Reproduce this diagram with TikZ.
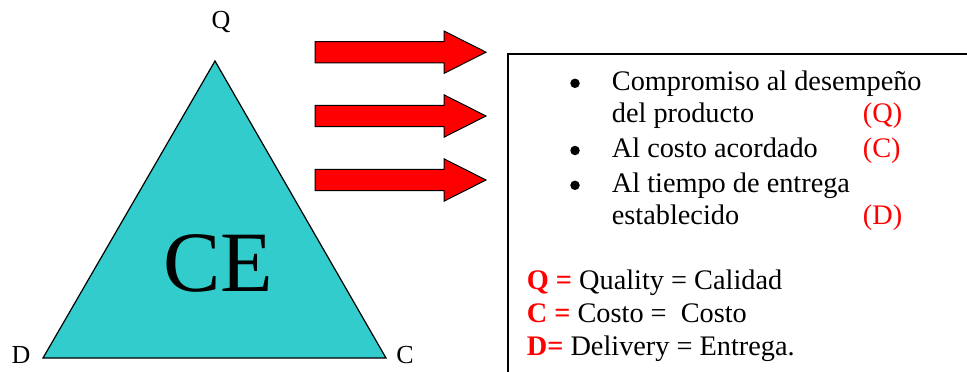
\documentclass[tikz,border=0pt]{standalone}
\usepackage{fontspec}
\setmainfont{Liberation Serif}
\definecolor{teal1}{HTML}{33CCCC}
\definecolor{red1}{HTML}{FF0000}
\begin{document}
\begin{tikzpicture}[x=1pt,y=-1pt,
  vlabel/.style={inner sep=0pt,anchor=base,font=\fontsize{26}{30}\selectfont},
  txt/.style={inner sep=0pt,anchor=base west,font=\fontsize{28.3}{32}\selectfont},
  bul/.style={circle,fill=black,inner sep=0pt,minimum size=9.5pt},
  redtxt/.style={txt,text=red1},
  bigarrow/.style={fill=red1,draw=black,line width=1pt,line join=miter}]
\useasboundingbox (0,0) rectangle (967,372);
% triangle
\coordinate (top) at (215,61);
\coordinate (dl) at (43,358);
\coordinate (cr) at (386,358);
\draw[fill=teal1,line width=1.2pt,line join=miter] (top) -- (dl) -- (cr) -- cycle;
\node[inner sep=0pt,anchor=base,font=\fontsize{86}{90}\selectfont] (ce) at (218,291) {CE};
\node[vlabel] (lq) at (221,28.5) {Q};
\node[vlabel] (ld) at (21,363.3) {D};
\node[vlabel] (lc) at (405,363.3) {C};
% arrows
\foreach \c in {52.2,116,180}{
  \draw[bigarrow] (315,\c-10.7) -- (444,\c-10.7) -- (444,\c-21.2) -- (486,\c)
     -- (444,\c+21.2) -- (444,\c+10.7) -- (315,\c+10.7) -- cycle;
}
% box
\draw[line width=1.5pt] (970,54) -- (508,54) -- (508,375);
% bullet list
\node[bul] (b1) at (575,83.3) {};
\node[txt] (t1) at (611.7,90.7) {Compromiso al desempeño};
\node[txt] (t2) at (611.7,122.7) {del producto};
\node[redtxt] (r1) at (862.7,122.7) {(Q)};
\node[bul] (b2) at (575,150.5) {};
\node[txt] (t3) at (611.7,157.7) {Al costo acordado};
\node[redtxt] (r2) at (862.7,157.7) {(C)};
\node[bul] (b3) at (575,185.3) {};
\node[txt] (t4) at (611.7,192.7) {Al tiempo de entrega};
\node[txt] (t5) at (611.7,224.3) {establecido};
\node[redtxt] (r3) at (862.7,224.3) {(D)};
% legend
\node[txt] (lg1) at (526.7,289.3) {\textcolor{red1}{\bfseries Q =} Quality = Calidad};
\node[txt] (lg2) at (526.7,322.7) {\textcolor{red1}{\bfseries C =} Costo =\ \ Costo};
\node[txt] (lg3) at (526.7,355) {\textcolor{red1}{\bfseries D=} Delivery = Entrega.};
\end{tikzpicture}
\end{document}
